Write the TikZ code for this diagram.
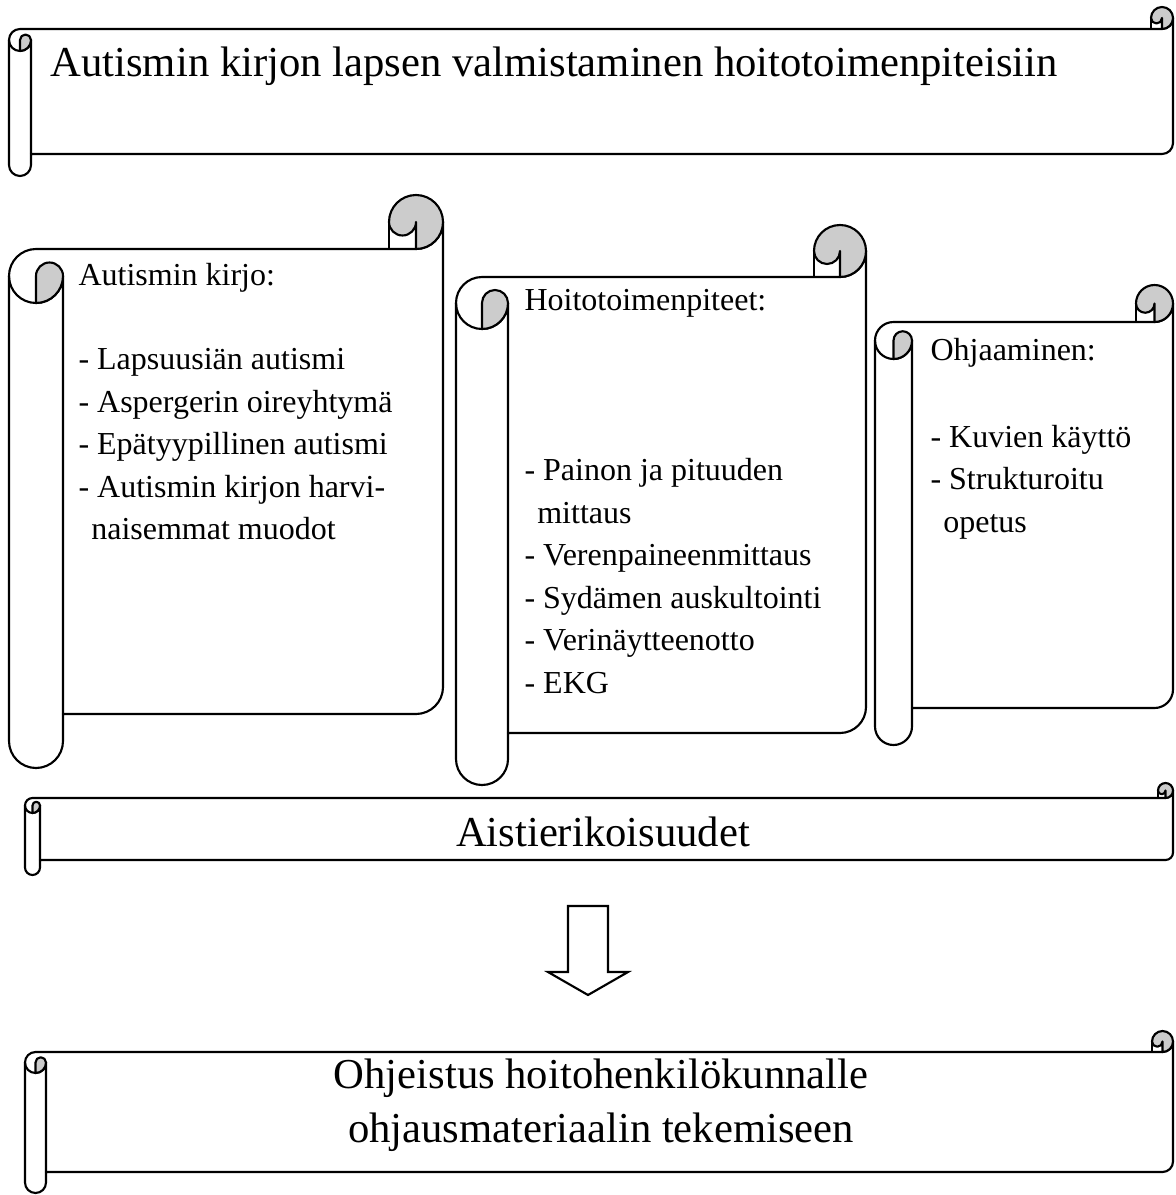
\documentclass[tikz,border=0pt]{standalone}
\usepackage{fontspec}
\setmainfont{Liberation Serif}
\usetikzlibrary{positioning}

\definecolor{rollgray}{RGB}{204,204,204}

\tikzset{
  scrollline/.style={draw=black, line width=0.8pt, line join=round},
  bigtext/.style={inner sep=0pt, font=\fontsize{16}{20.25}\selectfont},
  headtext/.style={inner sep=0pt, font=\fontsize{12}{15.94}\selectfont},
  listtext/.style={inner sep=0pt, align=left, font=\fontsize{12}{15.94}\selectfont},
  blockarrow/.style={draw=black, line width=0.8pt, fill=white, line join=miter},
}

% scroll: left, top, right, bottom, roll size
\newcommand{\scrollshape}[5]{%
  \pgfmathsetmacro{\scL}{#1}%
  \pgfmathsetmacro{\scT}{#2}%
  \pgfmathsetmacro{\scR}{#3}%
  \pgfmathsetmacro{\scB}{#4}%
  \pgfmathsetmacro{\scC}{#5}%
  \pgfmathsetmacro{\scH}{#5/2}%
  \pgfmathsetmacro{\scQ}{#5/4}%
  \draw[scrollline, fill=white] (\scL+\scH,\scT+\scC) -- (\scR-\scH,\scT+\scC)
    arc[start angle=90, end angle=0, radius=\scH] -- (\scR,\scB-\scC-\scH)
    arc[start angle=0, end angle=90, radius=\scH] -- (\scL+\scC,\scB-\scC)
    -- (\scL+\scC,\scB-\scH) arc[start angle=0, end angle=180, radius=\scH]
    -- (\scL,\scT+\scC+\scH) arc[start angle=180, end angle=270, radius=\scH] -- cycle;
  \draw[scrollline] (\scL,\scT+\scC+\scH) arc[start angle=180, end angle=0, radius=\scH]
    -- (\scL+\scC,\scB-\scC);
  \draw[scrollline, fill=rollgray] (\scL+\scH,\scT+\scC+\scH)
    arc[start angle=180, end angle=360, radius=\scQ]
    arc[start angle=0, end angle=90, radius=\scH] -- cycle;
  \draw[scrollline, fill=rollgray] (\scR-\scC,\scT+\scH)
    arc[start angle=180, end angle=450, radius=\scH] -- (\scR-\scH,\scT+\scH)
    arc[start angle=0, end angle=180, radius=\scQ] -- cycle;
  \draw[scrollline] (\scR-\scC,\scT+\scH) -- (\scR-\scC,\scT+\scC);
}

\begin{document}
\begin{tikzpicture}[x=0.375pt, y=-0.375pt]
  \useasboundingbox (0,0) rectangle (1175,1195);

  \scrollshape{9}{7}{1173}{176}{22}
  \scrollshape{9}{195}{443}{768}{54}
  \scrollshape{456}{225}{866}{785}{52}
  \scrollshape{875}{285}{1173}{745}{37}
  \scrollshape{25}{783}{1173}{875}{15}
  \scrollshape{25}{1031}{1173}{1193}{21}

  \node[bigtext, anchor=base west] (title) at (50,77) {Autismin kirjon lapsen valmistaminen hoitotoimenpiteisiin};

  \node[headtext, anchor=base west] (head1) at (78,285) {Autismin kirjo:};
  \node[listtext, below=22.5pt of head1.base west, anchor=north west] (list1)
    {\rule{0pt}{9pt}- Lapsuusiän autismi\\
     - Aspergerin oireyhtymä\\
     - Epätyypillinen autismi\\
     - Autismin kirjon harvi-\\
     \hspace*{0.4em}naisemmat muodot};

  \node[headtext, anchor=base west] (head2) at (524,310) {Hoitotoimenpiteet:};
  \node[listtext, below=54.75pt of head2.base west, anchor=north west] (list2)
    {\rule{0pt}{9pt}- Painon ja pituuden\\
     \hspace*{0.4em}mittaus\\
     - Verenpaineenmittaus\\
     - Sydämen auskultointi\\
     - Verinäytteenotto\\
     - EKG};

  \node[headtext, anchor=base west] (head3) at (930,360) {Ohjaaminen:};
  \node[listtext, below=23.6pt of head3.base west, anchor=north west] (list3)
    {\rule{0pt}{9pt}- Kuvien käyttö\\
     - Strukturoitu\\
     \hspace*{0.4em}opetus};

  \node[bigtext, anchor=base] (senses) at (603,846) {Aistierikoisuudet};

  \node[bigtext, anchor=base] (guide1) at (601,1088) {Ohjeistus hoitohenkilökunnalle};
  \node[bigtext, below=20.25pt of guide1.base, anchor=base] (guide2) {ohjausmateriaalin tekemiseen};

  \coordinate (arrowtop) at (588,906);
  \coordinate (arrowtip) at (588,995);
  \draw[blockarrow] (arrowtop) ++(-20,0) -- ++(0,66) -- ++(-20,0) -- (arrowtip)
    -- ++(40,-23) -- ++(-20,0) -- ++(0,-66) -- cycle;
\end{tikzpicture}
\end{document}
